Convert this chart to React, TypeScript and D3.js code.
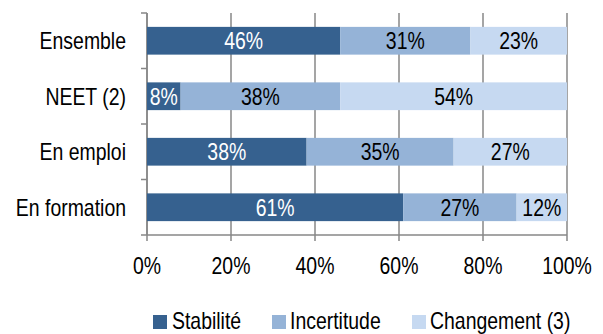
import React from "react";
import * as d3 from "d3";

const categories = ["Ensemble", "NEET (2)", "En emploi", "En formation"];
const seriesNames = ["Stabilité", "Incertitude", "Changement (3)"];
const stabilite = [46, 8, 38, 61];
const incertitude = [31, 38, 35, 27];
const changement = [23, 54, 27, 12];
const xTicks = [0, 20, 40, 60, 80, 100];

const colors = ["#36618F", "#95B3D7", "#C6D9F1"];
const labelColors = ["#ffffff", "#000000", "#000000"];
const FONT = "'Liberation Sans', Arial, sans-serif";
const FS = 23;
// horizontal squeeze giving a narrow sans face
const NARROW = 0.845;

const W = 603;
const H = 334;
const plot = { left: 147, right: 567, top: 13, bottom: 235 };

type NTextProps = {
  x: number;
  y: number;
  anchor?: "start" | "middle" | "end";
  fill?: string;
  children: React.ReactNode;
};

function NText({ x, y, anchor = "start", fill = "#000", children }: NTextProps) {
  return (
    <text
      transform={`translate(${x},${y}) scale(${NARROW},1)`}
      textAnchor={anchor}
      fontSize={FS}
      fill={fill}
    >
      {children}
    </text>
  );
}

export default function App() {
  const x = d3.scaleLinear().domain([0, 100]).range([plot.left, plot.right]);
  const y = d3
    .scaleBand<string>()
    .domain(categories)
    .range([plot.top, plot.bottom])
    .paddingInner(0.5)
    .paddingOuter(0.25);

  const rows = categories.map((c, i) => ({
    cat: c,
    values: [stabilite[i], incertitude[i], changement[i]],
  }));
  const stack = d3
    .stack<{ cat: string; values: number[] }, number>()
    .keys([0, 1, 2])
    .value((d, k) => d.values[k]);
  const layers = stack(rows);

  const step = (plot.bottom - plot.top) / categories.length;
  const grid = "#878787";
  const baseOff = FS * 0.36;

  const legendItems = [
    { sx: 153, tx: 172 },
    { sx: 272, tx: 290 },
    { sx: 412, tx: 430 },
  ];

  return (
    <svg
      width={W}
      height={H}
      style={{ position: "absolute", left: 0, top: 0, display: "block" }}
      fontFamily={FONT}
    >
      <rect width={W} height={H} fill="#ffffff" />
      {/* vertical gridlines */}
      {xTicks.map((t) => (
        <line key={"g" + t} x1={x(t)} x2={x(t)} y1={plot.top} y2={plot.bottom + 6} stroke={grid} strokeWidth={1.5} />
      ))}
      {/* bottom axis */}
      <line x1={plot.left} x2={plot.right} y1={plot.bottom} y2={plot.bottom} stroke={grid} strokeWidth={1.5} />
      {/* left axis with category ticks */}
      <line x1={plot.left} x2={plot.left} y1={plot.top} y2={plot.bottom} stroke={grid} strokeWidth={1.5} />
      {d3.range(categories.length + 1).map((i) => (
        <line
          key={"ct" + i}
          x1={plot.left - 6}
          x2={plot.left}
          y1={plot.top + i * step}
          y2={plot.top + i * step}
          stroke={grid}
          strokeWidth={1.5}
        />
      ))}
      {/* bars */}
      {layers.map((layer, li) =>
        layer.map((seg, ci) => {
          const x0 = x(seg[0]);
          const x1 = x(seg[1]);
          const yy = y(seg.data.cat)!;
          return (
            <g key={`b${li}-${ci}`}>
              <rect x={x0} y={yy} width={x1 - x0} height={y.bandwidth()} fill={colors[li]} />
              <NText x={(x0 + x1) / 2} y={yy + y.bandwidth() / 2 + baseOff} anchor="middle" fill={labelColors[li]}>
                {seg.data.values[li]}%
              </NText>
            </g>
          );
        })
      )}
      {/* category labels */}
      {categories.map((c) => (
        <NText key={"cl" + c} x={126} y={y(c)! + y.bandwidth() / 2 + baseOff} anchor="end">
          {c}
        </NText>
      ))}
      {/* x tick labels */}
      {xTicks.map((t) => (
        <NText key={"xl" + t} x={x(t)} y={274} anchor="middle">
          {t}%
        </NText>
      ))}
      {/* legend */}
      {seriesNames.map((s, i) => (
        <g key={"lg" + s}>
          <rect x={legendItems[i].sx} y={315} width={14} height={14} fill={colors[i]} />
          <NText x={legendItems[i].tx} y={328.5}>
            {s}
          </NText>
        </g>
      ))}
    </svg>
  );
}
